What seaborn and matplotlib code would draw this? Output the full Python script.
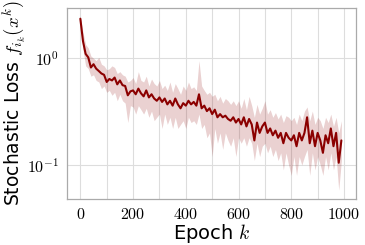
import numpy as np
import pandas as pd
import matplotlib
matplotlib.use("Agg")
import matplotlib.pyplot as plt
import matplotlib.ticker as mticker
import seaborn as sns

# epochs and stochastic loss (mean with lower/upper band)
epochs = np.arange(0, 1000, 10)
loss_mean = [2.35, 1.45, 1.10, 1.02, 0.82, 0.88, 0.80, 0.76, 0.72, 0.70,
             0.60, 0.64, 0.62, 0.66, 0.57, 0.62, 0.56, 0.55, 0.45, 0.49,
             0.50, 0.46, 0.52, 0.47, 0.44, 0.50, 0.43, 0.46, 0.42, 0.40,
             0.43, 0.39, 0.42, 0.37, 0.40, 0.36, 0.42, 0.37, 0.34, 0.38,
             0.36, 0.40, 0.37, 0.39, 0.36, 0.46, 0.34, 0.36, 0.32, 0.34,
             0.30, 0.33, 0.28, 0.30, 0.28, 0.29, 0.27, 0.26, 0.28, 0.25,
             0.27, 0.24, 0.28, 0.23, 0.27, 0.24, 0.17, 0.25, 0.20, 0.23,
             0.25, 0.20, 0.22, 0.19, 0.21, 0.18, 0.20, 0.16, 0.20, 0.18,
             0.17, 0.19, 0.15, 0.20, 0.17, 0.20, 0.28, 0.16, 0.21, 0.15,
             0.20, 0.17, 0.13, 0.19, 0.16, 0.22, 0.15, 0.20, 0.105, 0.17]
loss_lo = [2.25, 1.20, 0.85, 0.80, 0.68, 0.70, 0.62, 0.60, 0.52, 0.55,
           0.48, 0.50, 0.45, 0.48, 0.40, 0.46, 0.40, 0.38, 0.25, 0.36,
           0.35, 0.30, 0.36, 0.33, 0.30, 0.34, 0.28, 0.32, 0.26, 0.28,
           0.30, 0.22, 0.30, 0.24, 0.28, 0.22, 0.28, 0.22, 0.24, 0.26,
           0.22, 0.28, 0.25, 0.26, 0.24, 0.30, 0.22, 0.24, 0.18, 0.20,
           0.12, 0.22, 0.16, 0.20, 0.14, 0.20, 0.17, 0.15, 0.18, 0.12,
           0.18, 0.16, 0.18, 0.15, 0.18, 0.16, 0.11, 0.16, 0.12, 0.15,
           0.16, 0.13, 0.15, 0.12, 0.14, 0.11, 0.13, 0.09, 0.13, 0.10,
           0.08, 0.12, 0.08, 0.12, 0.10, 0.12, 0.14, 0.08, 0.13, 0.09,
           0.12, 0.10, 0.08, 0.12, 0.09, 0.13, 0.09, 0.12, 0.058, 0.11]
loss_hi = [2.45, 1.75, 1.35, 1.25, 1.05, 1.00, 0.95, 1.02, 0.88, 0.85,
           0.78, 0.80, 0.85, 0.82, 0.72, 0.75, 0.70, 0.68, 0.60, 0.62,
           0.66, 0.58, 0.75, 0.62, 0.60, 0.68, 0.55, 0.64, 0.58, 0.55,
           0.62, 0.52, 0.56, 0.50, 0.60, 0.48, 0.58, 0.52, 0.46, 0.55,
           0.50, 0.60, 0.52, 0.54, 0.50, 0.95, 0.55, 0.50, 0.46, 0.48,
           0.44, 0.46, 0.40, 0.44, 0.38, 0.42, 0.40, 0.37, 0.40, 0.36,
           0.40, 0.34, 0.42, 0.33, 0.44, 0.36, 0.28, 0.37, 0.30, 0.34,
           0.40, 0.30, 0.33, 0.28, 0.31, 0.27, 0.30, 0.25, 0.29, 0.28,
           0.26, 0.28, 0.24, 0.30, 0.26, 0.32, 0.35, 0.26, 0.32, 0.24,
           0.28, 0.26, 0.22, 0.28, 0.25, 0.30, 0.23, 0.28, 0.20, 0.26]

df = pd.DataFrame({"epoch": epochs, "loss": loss_mean,
                   "lo": loss_lo, "hi": loss_hi})

sns.set_style("whitegrid")
plt.rcParams["mathtext.fontset"] = "cm"
plt.rcParams["font.family"] = ["DejaVu Sans"]

fig = plt.figure(figsize=(3.65, 2.45), dpi=100)
ax = fig.add_axes([0.184, 0.188, 0.791, 0.779])

color = "#8b0000"
ax.fill_between(df["epoch"], df["lo"], df["hi"], color=color, alpha=0.18, lw=0)
sns.lineplot(data=df, x="epoch", y="loss", color=color, lw=1.5, ax=ax)

ax.set_yscale("log")
ax.set_xlim(-50, 1045)
ax.set_xticks([0, 200, 400, 600, 800, 1000])
ax.xaxis.set_minor_locator(mticker.MultipleLocator(100))
ax.xaxis.set_major_formatter(mticker.FuncFormatter(lambda v, p: r"$%d$" % v))
ax.yaxis.set_major_formatter(
    mticker.FuncFormatter(lambda v, p: r"$10^{%d}$" % round(np.log10(v))))
ax.yaxis.set_minor_formatter(mticker.NullFormatter())

ax.grid(True, which="major", color="#dddddd", lw=0.8)
ax.grid(True, which="minor", axis="x", color="#dddddd", lw=0.8)
ax.tick_params(which="both", direction="out", color="#444444", labelsize=11.5,
               labelcolor="black", pad=2)
ax.tick_params(which="major", length=4, width=0.8)
ax.tick_params(which="minor", length=2.5, width=0.6)
ax.tick_params(axis="x", which="minor", length=4)
for s in ax.spines.values():
    s.set_color("#aaaaaa")
    s.set_linewidth(0.9)

ax.set_xlabel(r"Epoch $k$", fontsize=14, labelpad=0, color="black")
ax.set_ylabel(r"Stochastic Loss $f_{i_k}(x^k)$", fontsize=13.5, labelpad=-1,
              color="black")

fig.savefig("out.png", dpi=100)
